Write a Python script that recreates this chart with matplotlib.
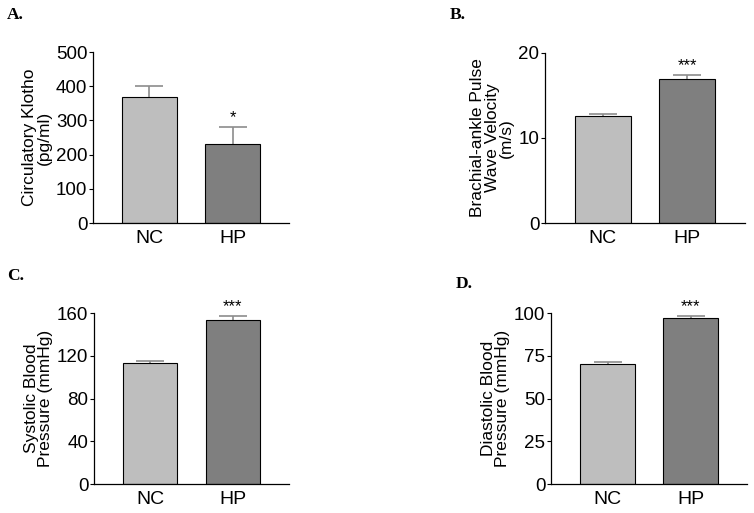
import matplotlib
matplotlib.use("Agg")
import matplotlib.pyplot as plt
import numpy as np

plt.rcParams['font.family'] = ['Liberation Sans', 'DejaVu Sans']

# =============================
# Data
# =============================
groups = ["NC", "HP"]
bar_colors = ["#bebebe", "#7f7f7f"]

klotho_mean = [368, 231]
klotho_err = [32, 50]

bapwv_mean = [12.6, 16.95]
bapwv_err = [0.2, 0.5]

sbp_mean = [113, 153.2]
sbp_err = [1.9, 4.3]

dbp_mean = [70, 96.9]
dbp_err = [1.5, 1.5]

panels = [
   # letter, mean, err, ylabel, yticks, stars, axes rect, letter pos
   ("A.", klotho_mean, klotho_err, "Circulatory Klotho\n(pg/ml)", [0, 100, 200, 300, 400, 500], "*",
    [0.1233, 0.5653, 0.260, 0.3333], (0.009, 0.962)),
   ("B.", bapwv_mean, bapwv_err, "Brachial-ankle Pulse\nWave Velocity\n(m/s)", [0, 10, 20], "***",
    [0.7228, 0.5653, 0.2653, 0.3314], (0.596, 0.962)),
   ("C.", sbp_mean, sbp_err, "Systolic Blood\nPressure (mmHg)", [0, 40, 80, 120, 160], "***",
    [0.1247, 0.0565, 0.2586, 0.3333], (0.009, 0.455)),
   ("D.", dbp_mean, dbp_err, "Diastolic Blood\nPressure (mmHg)", [0, 25, 50, 75, 100], "***",
    [0.7308, 0.0565, 0.2600, 0.3333], (0.604, 0.438)),
]

fig = plt.figure(figsize=(7.54, 5.13), dpi=100)

for letter, mean, err, ylabel, yticks, stars, rect, lpos in panels:
   ax = fig.add_axes(rect)
   x = np.arange(len(groups))
   ax.bar(x, mean, width=0.66, color=bar_colors, edgecolor="black", linewidth=0.8, zorder=2)

   # upper error bars only: gray stem, black cap
   eb = ax.errorbar(x, mean, yerr=[np.zeros(len(err)), err], fmt="none",
                    ecolor="#8c8c8c", elinewidth=1.2, capsize=10, capthick=1.2, zorder=1)
   caps = eb[1]
   caps[0].set_visible(False)
   caps[1].set_color("black")

   # significance stars
   top = max(yticks)
   ax.text(x[1], mean[1] + err[1] + top * 0.01, stars, ha="center", va="bottom",
           fontsize=12)

   ax.set_xlim(-0.68, 1.68)
   ax.set_ylim(0, top)
   ax.set_yticks(yticks)
   ax.set_xticks(x)
   ax.set_xticklabels(groups)
   ax.tick_params(axis="x", length=0, labelsize=14, pad=5)
   ax.tick_params(axis="y", direction="out", length=3, width=0.8, labelsize=13.5, pad=1)
   ax.spines["top"].set_visible(False)
   ax.spines["right"].set_visible(False)
   ax.spines["left"].set_linewidth(0.9)
   ax.spines["bottom"].set_linewidth(0.9)
   ax.set_ylabel(ylabel, fontsize=12.5, linespacing=0.95, labelpad=3)

   fig.text(lpos[0], lpos[1], letter, fontsize=12.5, fontweight="bold",
            family="Liberation Serif", ha="left", va="baseline")

fig.savefig("out.png", dpi=100)
